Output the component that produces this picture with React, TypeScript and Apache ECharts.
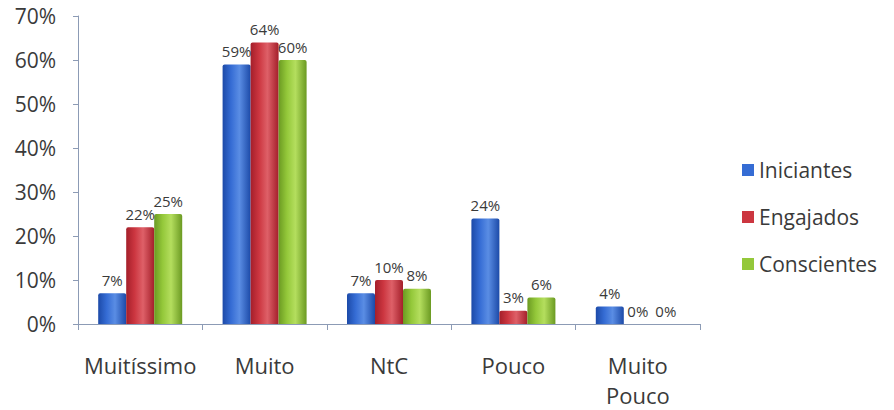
import React, { useEffect, useRef } from "react";
import * as echarts from "echarts";

const categories = ["Muitíssimo", "Muito", "NtC", "Pouco", "Muito\nPouco"];
const seriesNames = ["Iniciantes", "Engajados", "Conscientes"];
const iniciantes = [7, 59, 7, 24, 4];
const engajados = [22, 64, 10, 3, 0];
const conscientes = [25, 60, 8, 6, 0];
const yTicks = [0, 10, 20, 30, 40, 50, 60, 70];

const palettes = [
  { dark: "#1c4aa8", mid: "#356cd4", light: "#5a8de4" },
  { dark: "#a41f2a", mid: "#cc3640", light: "#de6068" },
  { dark: "#6b9a22", mid: "#94c83a", light: "#b4de5e" },
];

const grad = (p: { dark: string; mid: string; light: string }) =>
  new echarts.graphic.LinearGradient(0, 0, 1, 0, [
    { offset: 0, color: p.dark },
    { offset: 0.3, color: p.mid },
    { offset: 0.6, color: p.light },
    { offset: 1, color: p.dark },
  ]);

export default function App() {
  const ref = useRef<HTMLDivElement>(null);
  useEffect(() => {
    if (!ref.current) return;
    const chart = echarts.init(ref.current, undefined, { renderer: "svg" });
    const datas = [iniciantes, engajados, conscientes];
    const font = "'Open Sans', Lato, sans-serif";
    const txt = "#3a3a3a";
    chart.setOption({
      animation: false,
      backgroundColor: "#ffffff",
      textStyle: { fontFamily: font },
      grid: { left: 78, right: 194, top: 16, bottom: 86, containLabel: false },
      legend: {
        orient: "vertical",
        left: 737,
        top: 154,
        itemWidth: 12,
        itemHeight: 12,
        itemGap: 25,
        icon: "rect",
        textStyle: { fontSize: 21, color: txt, lineHeight: 22, fontFamily: font },
        data: seriesNames.map((n, i) => ({ name: n, itemStyle: { color: palettes[i].mid } })),
      },
      xAxis: {
        type: "category",
        data: categories,
        axisLine: { lineStyle: { color: "#8c9bb5", width: 1 } },
        axisTick: { show: true, length: 6, lineStyle: { color: "#8c9bb5" } },
        axisLabel: {
          interval: 0,
          fontSize: 22,
          color: txt,
          margin: 26,
          lineHeight: 30,
          fontFamily: font,
        },
      },
      yAxis: {
        type: "value",
        min: yTicks[0],
        max: yTicks[yTicks.length - 1],
        interval: 10,
        splitLine: { show: false },
        axisLine: { show: true, lineStyle: { color: "#8c9bb5", width: 1 } },
        axisTick: { show: true, length: 5, lineStyle: { color: "#8c9bb5" } },
        axisLabel: {
          fontSize: 21,
          color: txt,
          margin: 22,
          formatter: (v: number) => v + "%",
          fontFamily: font,
        },
      },
      series: seriesNames.map((n, i) => ({
        name: n,
        type: "bar",
        data: datas[i],
        barWidth: 28,
        barGap: "0%",
        barCategoryGap: "32%",
        itemStyle: { color: grad(palettes[i]), borderRadius: [2, 2, 0, 0] },
        label: {
          show: true,
          position: "top",
          distance: 6,
          fontSize: 15,
          color: txt,
          fontFamily: font,
          formatter: (p: any) => p.value + "%",
        },
      })),
    });
    return () => chart.dispose();
  }, []);
  return (
    <div
      ref={ref}
      style={{ position: "fixed", left: 0, top: 0, width: 894, height: 410 }}
    />
  );
}
